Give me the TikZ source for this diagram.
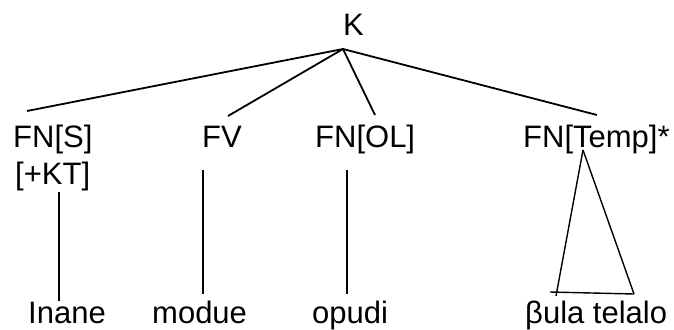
\documentclass[tikz,border=0pt]{standalone}
\usepackage{fontspec}
\setmainfont{Liberation Sans}
\usetikzlibrary{positioning}

\begin{document}
\begin{tikzpicture}
	[x=1pt,y=-1pt,word/.style={font=\fontsize{31}{37}\selectfont,inner sep=0pt,anchor=base west}]
	\useasboundingbox (0,0) rectangle (674,329);
	\node [word] (k) at (343,36) {K};
	\node [word] (fns) at (13,147) {FN[S]};
	\node [word] (kt) at (15,184) {[+KT]};
	\node [word] (fv) at (202,147) {FV};
	\node [word] (fnol) at (315,147) {FN[OL]};
	\node [word] (fntemp) at (523,147) {FN[Temp]*};
	\node [word] (inane) at (28,323) {Inane};
	\node [word] (modue) at (152,323) {modue};
	\node [word] (opudi) at (312,323) {opudi};
	\node [word] (bula) at (525,323) {βula telalo};
	
	\coordinate (top) at (343,49);
	\coordinate (fns up) at (27,111);
	\coordinate (fv up) at (228,116);
	\coordinate (fnol up) at (375,115);
	\coordinate (fntemp up) at (597,115);
	\coordinate (kt down) at (59,192);
	\coordinate (inane up) at (59,301);
	\coordinate (fv down) at (203,170);
	\coordinate (modue up) at (203,294);
	\coordinate (fnol down) at (347,170);
	\coordinate (opudi up) at (347,294);
	\coordinate (tri top) at (583,150);
	\coordinate (tri left) at (556,296);
	\coordinate (tri right) at (634,294);
	\coordinate (tri base) at (550,292);
	
	\path[draw,line width=1.8pt]
	(top) edge (fns up)
	(top) edge (fv up)
	(top) edge (fnol up)
	(top) edge (fntemp up)
	;
	
	\path[draw,line width=1.4pt]
	(kt down) edge (inane up)
	(fv down) edge (modue up)
	(fnol down) edge (opudi up)
	(tri top) edge (tri left)
	(tri top) edge (tri right)
	(tri base) edge (tri right)
	;
	
	\end{tikzpicture}
\end{document}
